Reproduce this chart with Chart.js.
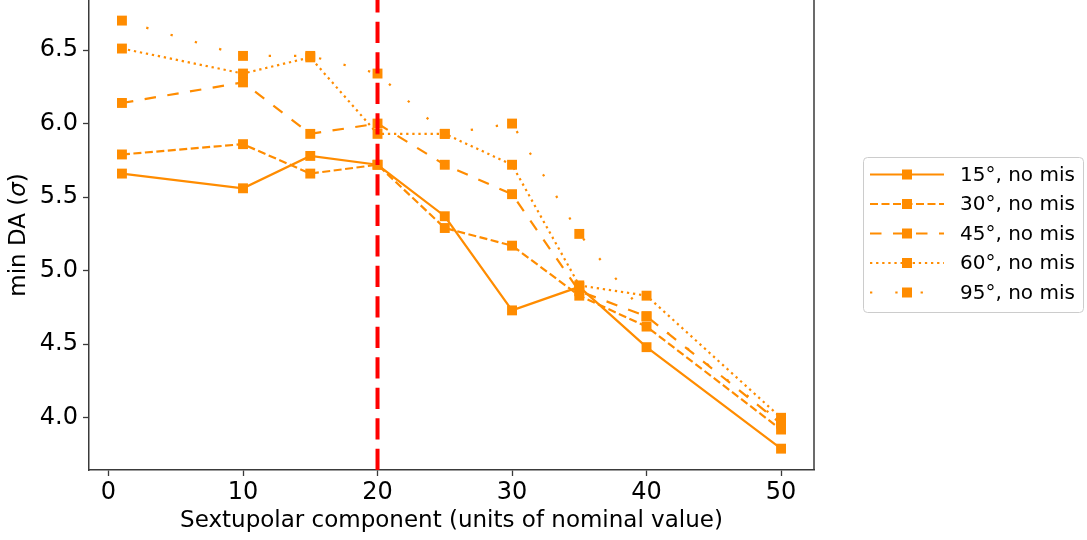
<!DOCTYPE html>
<html>
<head>
<meta charset="utf-8">
<script src="https://cdn.jsdelivr.net/npm/chart.js@4/dist/chart.umd.min.js"></script>
<style>
  html, body { margin: 0; padding: 0; background: #ffffff; }
  #wrap { width: 1087px; height: 540px; position: relative; }
</style>
</head>
<body>
<div id="wrap"><canvas id="chart" width="1087" height="540"></canvas></div>
<script>
// Sextupolar component (units of nominal value)
const sextupole = [1, 10, 15, 20, 25, 30, 35, 40, 50];

// minimum dynamic aperture (sigma) for each angle, no misalignment
const da15 = [5.66, 5.56, 5.78, 5.72, 5.37, 4.73, 4.89, 4.48, 3.79];
const da30 = [5.79, 5.86, 5.66, 5.72, 5.29, 5.17, 4.83, 4.62, 3.92];
const da45 = [6.14, 6.28, 5.93, 6.00, 5.72, 5.52, 4.86, 4.69, 3.96];
const da60 = [6.51, 6.34, 6.45, 5.93, 5.93, 5.72, 4.90, 4.83, 4.00];
const da95 = [6.70, 6.46, 6.46, 6.34, 5.93, 6.00, 5.25, 4.69, 3.97];

const seriesLabels = ['15°, no mis', '30°, no mis', '45°, no mis', '60°, no mis', '95°, no mis'];
const xTicks = [0, 10, 20, 30, 40, 50];
const yTicks = [4.0, 4.5, 5.0, 5.5, 6.0, 6.5];
const nominalLimit = 20;

const ORANGE = '#ff8c00';
const FONT = "'DejaVu Sans', 'Liberation Sans', sans-serif";
const AXIS = '#3a3a3a';

// line styles: solid, dashed, loosely dashed, dotted, loosely dotted
const dashes = [[], [8, 3.5], [11.5, 11.5], [2.3, 3.8], [2.3, 23]];
const seriesValues = [da15, da30, da45, da60, da95];

const datasets = seriesValues.map((vals, i) => ({
  label: seriesLabels[i],
  data: sextupole.map((x, j) => ({ x: x, y: vals[j] })),
  borderColor: ORANGE,
  backgroundColor: ORANGE,
  borderWidth: 2.2,
  borderDash: dashes[i],
  borderCapStyle: 'butt',
  pointStyle: 'rect',
  pointRadius: 7,
  pointBorderWidth: 0,
  pointBackgroundColor: ORANGE,
  pointBorderColor: ORANGE,
  tension: 0,
  fill: false,
  clip: false
}));

// vertical reference line at the nominal limit, dashed from the bottom up
const refLine = {
  id: 'refLine',
  afterDatasetsDraw(chart) {
    const { ctx, chartArea, scales } = chart;
    const px = scales.x.getPixelForValue(nominalLimit);
    ctx.save();
    ctx.strokeStyle = '#ff0000';
    ctx.lineWidth = 4;
    ctx.setLineDash([21.3, 9.2]);
    ctx.lineCap = 'butt';
    ctx.beginPath();
    ctx.moveTo(px, chartArea.bottom);
    ctx.lineTo(px, chartArea.top);
    ctx.stroke();
    ctx.restore();
  }
};

// right-hand frame edge and y-axis label with an italic sigma
const frame = {
  id: 'frame',
  afterDraw(chart) {
    const { ctx, chartArea } = chart;
    ctx.save();
    ctx.strokeStyle = AXIS;
    ctx.lineWidth = 1.5;
    ctx.beginPath();
    ctx.moveTo(chartArea.right, chartArea.top);
    ctx.lineTo(chartArea.right, chartArea.bottom);
    ctx.stroke();

    const parts = [['min DA (', 'normal'], ['σ', 'italic'], [')', 'normal']];
    const widths = parts.map(p => { ctx.font = p[1] + ' 23px ' + FONT; return ctx.measureText(p[0]).width; });
    const total = widths.reduce((a, b) => a + b, 0);
    ctx.translate(19, (chartArea.top + chartArea.bottom) / 2);
    ctx.rotate(-Math.PI / 2);
    ctx.fillStyle = '#000000';
    ctx.textBaseline = 'middle';
    ctx.textAlign = 'left';
    let x = -total / 2;
    parts.forEach((p, i) => {
      ctx.font = p[1] + ' 23px ' + FONT;
      ctx.fillText(p[0], x, 0);
      x += widths[i];
    });
    ctx.restore();
  }
};

// legend box to the right of the plot
const sideLegend = {
  id: 'sideLegend',
  afterDraw(chart) {
    const { ctx } = chart;
    const bx = 863.5, by = 157.5, bw = 220, bh = 155, r = 4;
    ctx.save();
    ctx.fillStyle = 'rgba(255,255,255,0.8)';
    ctx.strokeStyle = '#cccccc';
    ctx.lineWidth = 1;
    ctx.beginPath();
    ctx.roundRect(bx, by, bw, bh, r);
    ctx.fill();
    ctx.stroke();
    ctx.font = '20px ' + FONT;
    ctx.textBaseline = 'middle';
    ctx.textAlign = 'left';
    chart.data.datasets.forEach((ds, i) => {
      const y = 174.5 + i * 29.5;
      ctx.strokeStyle = ORANGE;
      ctx.lineWidth = 2.2;
      ctx.lineCap = 'butt';
      ctx.setLineDash(ds.borderDash);
      ctx.beginPath();
      ctx.moveTo(870, y);
      ctx.lineTo(944, y);
      ctx.stroke();
      ctx.setLineDash([]);
      ctx.fillStyle = ORANGE;
      ctx.fillRect(907 - 5, y - 5, 10, 10);
      ctx.fillStyle = '#000000';
      ctx.fillText(ds.label, 960, y + 1);
    });
    ctx.restore();
  }
};

new Chart(document.getElementById('chart'), {
  type: 'line',
  data: { datasets: datasets },
  plugins: [refLine, frame, sideLegend],
  options: {
    responsive: false,
    devicePixelRatio: 1,
    animation: false,
    layout: { autoPadding: false, padding: { left: 0, right: 273, top: 0, bottom: 0 } },
    plugins: { legend: { display: false }, tooltip: { enabled: false } },
    scales: {
      x: {
        type: 'linear',
        min: -1.45,
        max: 52.45,
        afterBuildTicks(scale) { scale.ticks = xTicks.map(v => ({ value: v })); },
        afterFit(scale) { scale.height = 70; scale.paddingLeft = 0; scale.paddingRight = 0; },
        grid: { drawOnChartArea: false, drawTicks: true, tickLength: 6, tickColor: AXIS, tickWidth: 1.3 },
        border: { display: true, color: AXIS, width: 1.5 },
        ticks: {
          color: '#000000',
          font: { family: FONT, size: 24 },
          padding: 2,
          maxRotation: 0,
          autoSkip: false,
          callback: v => String(v)
        },
        title: {
          display: true,
          text: 'Sextupolar component (units of nominal value)',
          color: '#000000',
          font: { family: FONT, size: 23 },
          padding: { top: 0, bottom: 5 }
        }
      },
      y: {
        type: 'linear',
        min: 3.645,
        max: 6.84,
        afterBuildTicks(scale) { scale.ticks = yTicks.map(v => ({ value: v })); },
        afterFit(scale) { scale.width = 89; scale.paddingTop = 0; scale.paddingBottom = 0; },
        grid: { drawOnChartArea: false, drawTicks: true, tickLength: 6, tickColor: AXIS, tickWidth: 1.3 },
        border: { display: true, color: AXIS, width: 1.5 },
        ticks: {
          color: '#000000',
          font: { family: FONT, size: 24 },
          padding: 5,
          autoSkip: false,
          callback: v => v.toFixed(1)
        },
        title: { display: false }
      }
    }
  }
});
</script>
</body>
</html>
